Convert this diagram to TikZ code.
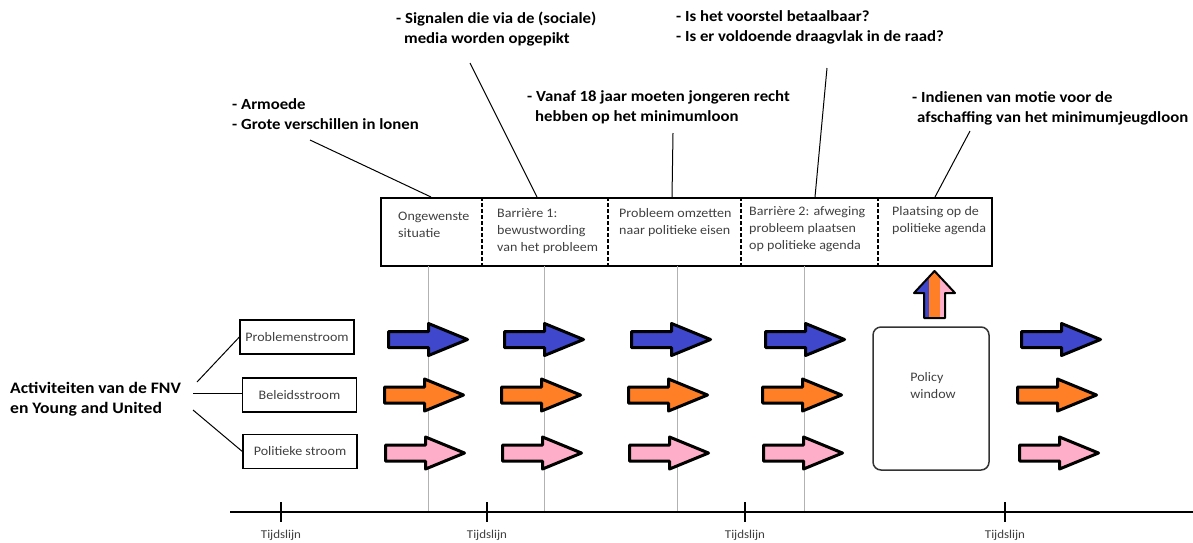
\documentclass[tikz,border=0pt]{standalone}
\usepackage{fontspec}
\setmainfont{Carlito}
\newfontfamily\cwa[FakeStretch=1.08]{Carlito}
\newfontfamily\cwb[FakeStretch=1.08]{Carlito}
\newfontfamily\cwc[FakeStretch=1.1]{Carlito}
\definecolor{pblue}{RGB}{63,72,204}
\definecolor{porange}{RGB}{255,127,39}
\definecolor{ppink}{RGB}{255,174,201}
\definecolor{txtgray}{RGB}{64,64,64}
\tikzset{
  ann/.style={anchor=north west, align=left, inner sep=0, font=\cwa\fontsize{15.5}{20}\selectfont\bfseries},
  cell/.style={anchor=north west, align=left, inner sep=0, text=txtgray, font=\cwb\fontsize{13}{17}\selectfont},
  streambox/.style={draw, line width=1.3, minimum width=114, minimum height=34, inner sep=0, text=txtgray, font=\cwb\fontsize{13}{15}\selectfont},
  conn/.style={line width=1},
  grayline/.style={draw=gray!60, line width=1},
  sep/.style={line width=1.6, dash pattern=on 3.5 off 2.5},
  tick/.style={line width=1.5},
  tlabel/.style={text=txtgray, inner sep=0, font=\cwb\fontsize{12}{14}\selectfont},
  rarrow/.pic={\path[draw=black, line width=3, line join=round, pic actions]
     (0,-8) -- (40,-8) -- (40,-16) -- (79,0) -- (40,16) -- (40,8) -- (0,8) -- cycle;}
}
\begin{document}
\begin{tikzpicture}[x=1pt,y=-1pt]
\useasboundingbox (0,0) rectangle (1193,542);

% annotation texts
\node[ann] (a1) at (232,98) {- Armoede\\- Grote verschillen in lonen};
\node[ann] (a2) at (396,12) {- Signalen die via de (sociale)\\\hspace*{8pt}media worden opgepikt};
\node[ann] (a3) at (527,90) {- Vanaf 18 jaar moeten jongeren recht\\\hspace*{8pt}hebben op het minimumloon};
\node[ann] (a4) at (676,10) {- Is het voorstel betaalbaar?\\- Is er voldoende draagvlak in de raad?};
\node[ann] (a5) at (912,91) {- Indienen van motie voor de\\\hspace*{5pt}afschaffing van het minimumjeugdloon};

% top box
\node[draw, line width=2, inner sep=0, minimum width=611, minimum height=68, anchor=north west] (box) at (380,197) {};
\foreach \x/\n in {482/s1,608/s2,741/s3,878/s4}{
  \coordinate (\n t) at (\x,197);
  \coordinate (\n b) at (\x,265);
  \draw[sep] (\n t) -- (\n b);
}
\node[cell] (c1) at (398,212) {Ongewenste\\situatie};
\node[cell] (c2) at (497,208) {Barrière 1:\\bewustwording\\van het probleem};
\node[cell] (c3) at (619,208) {Probleem omzetten\\naar politieke eisen};
\node[cell] (c4) at (749,206) {Barrière 2: afweging\\probleem plaatsen\\op politieke agenda};
\node[cell] (c5) at (892,206) {Plaatsing op de\\politieke agenda};

% annotation connectors
\coordinate (e1) at (310,140); \coordinate (f1) at (431,197);
\coordinate (e2) at (470,63);  \coordinate (f2) at (537,197);
\coordinate (e3) at (673,133); \coordinate (f3) at (672,197);
\coordinate (e4) at (827,68);  \coordinate (f4) at (815,197);
\coordinate (e5) at (970,131); \coordinate (f5) at (935,197);
\foreach \i in {1,...,5}{\draw[conn] (e\i) -- (f\i);}

% timeline
\coordinate (tl0) at (230,512);
\coordinate (tl1) at (1193,512);

% gray vertical lines
\foreach \x/\n in {428/g1,544/g2,677/g3,804/g4}{
  \coordinate (\n t) at (\x,266);
  \coordinate (\n b) at (\x,512);
  \draw[grayline] (\n t) -- (\n b);
}
\draw[line width=2] (tl0) -- (tl1);
\foreach \x/\n in {281/t1,487/t2,745/t3,1005/t4}{
  \coordinate (\n a) at (\x,502);
  \coordinate (\n b) at (\x,522);
  \draw[tick] (\n a) -- (\n b);
  \node[tlabel] (\n l) at (\x,535) {Tijdslijn};
}

% stream boxes
\node[streambox] (pro) at (297,337) {Problemenstroom};
\node[streambox] (bel) at (299.5,395) {Beleidsstroom};
\node[streambox] (pol) at (300,451.5) {Politieke stroom};

% left label
\node[anchor=west, align=left, inner sep=0, font=\cwc\fontsize{16}{20}\selectfont\bfseries] (act) at (10,399) {Activiteiten van de FNV\\en Young and United};
\coordinate (l1) at (197,382);
\coordinate (l2) at (193,393);
\coordinate (l3) at (193,410);
\draw[conn] (l1) -- (pro.west);
\draw[conn] (l2) -- (bel.west |- l2);
\draw[conn] (l3) -- (pol.west);

% stream arrows
\foreach \bx/\ox/\px in {388.5/384.5/385.5, 504.5/501.5/502.5, 631.5/628.5/629.5, 765.5/762.5/763.5, 1021.5/1017.5/1019.5}{
  \pic[fill=pblue] at (\bx,339.5) {rarrow};
  \pic[fill=porange] at (\ox,395) {rarrow};
  \pic[fill=ppink] at (\px,453) {rarrow};
}

% policy window
\node[draw=black!80, line width=1.5, rounded corners=8, minimum width=116, minimum height=143, inner sep=0] (pw) at (931,398.5) {};
\node[align=left, inner sep=0, text=txtgray, font=\cwb\fontsize{13}{17}\selectfont] (pwt) at (933,386) {Policy\\window};

% up arrow (tricolour)
\begin{scope}
  \clip (934.5,271) -- (955,293) -- (945,293) -- (945,318) -- (924,318) -- (924,293) -- (914,293) -- cycle;
  \fill[pblue] (910,265) rectangle (929,320);
  \fill[porange] (929,265) rectangle (940,320);
  \fill[ppink] (940,265) rectangle (960,320);
\end{scope}
\draw[line width=2, line join=round] (934.5,271) -- (955,293) -- (945,293) -- (945,318) -- (924,318) -- (924,293) -- (914,293) -- cycle;

\end{tikzpicture}
\end{document}
